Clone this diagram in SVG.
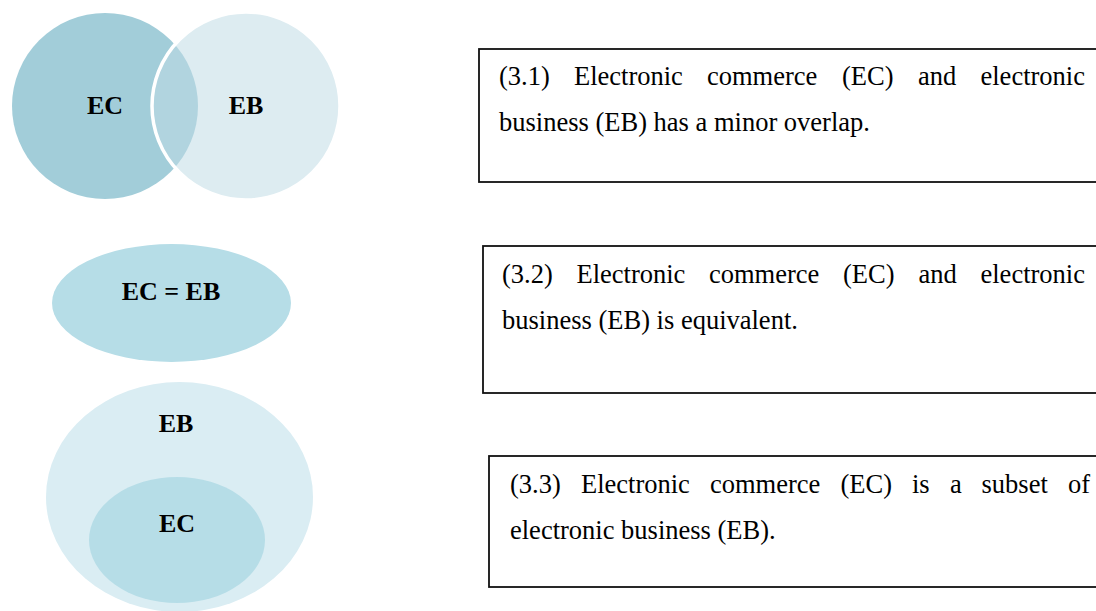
<svg xmlns="http://www.w3.org/2000/svg" width="1096" height="611" viewBox="0 0 1096 611">
  <style>
    .lbl { font-family: "Liberation Serif", "Times New Roman", serif; font-weight: bold; font-size: 26px; fill: #000; text-anchor: middle; }
    .txt { font-family: "Liberation Serif", "Times New Roman", serif; font-size: 26.5px; fill: #000; }
    .box { fill: #fff; stroke: #111; stroke-width: 1.8; }
  </style>
  <rect width="1096" height="611" fill="#fff"/>

  <g id="venn-overlap">
    <circle cx="105" cy="106" r="93" fill="#a2cdd9"/>
    <circle cx="246" cy="106" r="94" fill="#bedbe4" fill-opacity="0.53" stroke="#fff" stroke-width="3.5"/>
    <text class="lbl" x="105" y="114">EC</text>
    <text class="lbl" x="246" y="114">EB</text>
  </g>

  <g id="venn-equal">
    <ellipse cx="171.5" cy="303" rx="119.5" ry="59" fill="#b6dde7"/>
    <text class="lbl" x="171" y="300">EC = EB</text>
  </g>

  <g id="venn-subset">
    <ellipse cx="179.5" cy="497" rx="133.5" ry="115" fill="#daedf3"/>
    <text class="lbl" x="176" y="432">EB</text>
    <ellipse cx="177" cy="540" rx="88" ry="63" fill="#b6dde7"/>
    <text class="lbl" x="177" y="532">EC</text>
  </g>

  <g id="box-3-1">
    <rect class="box" x="479" y="49" width="630" height="133"/>
    <text class="txt" y="85"><tspan x="499">(3.1)</tspan><tspan x="574">Electronic</tspan><tspan x="707">commerce</tspan><tspan x="842">(EC)</tspan><tspan x="918">and</tspan><tspan x="980.5">electronic</tspan></text>
    <text class="txt" x="499" y="131">business (EB) has a minor overlap.</text>
  </g>

  <g id="box-3-2">
    <rect class="box" x="483" y="246" width="630" height="147"/>
    <text class="txt" y="283"><tspan x="502">(3.2)</tspan><tspan x="576.5">Electronic</tspan><tspan x="709">commerce</tspan><tspan x="843">(EC)</tspan><tspan x="918.5">and</tspan><tspan x="980.5">electronic</tspan></text>
    <text class="txt" x="502" y="329">business (EB) is equivalent.</text>
  </g>

  <g id="box-3-3">
    <rect class="box" x="489" y="456" width="630" height="131"/>
    <text class="txt" y="493"><tspan x="510">(3.3)</tspan><tspan x="581">Electronic</tspan><tspan x="710">commerce</tspan><tspan x="840.5">(EC)</tspan><tspan x="912">is</tspan><tspan x="950">a</tspan><tspan x="981.5">subset</tspan><tspan x="1068">of</tspan></text>
    <text class="txt" x="510" y="539">electronic business (EB).</text>
  </g>

  <g id="connectors"></g>
</svg>
